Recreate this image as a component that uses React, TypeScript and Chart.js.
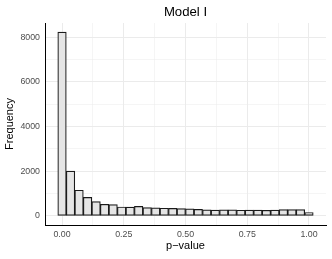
import React, { useEffect, useRef } from "react";
import { Chart, registerables } from "chart.js";

Chart.register(...registerables);

const chartTitle = "Model I";
const xTitle = "p\u2212value";
const yTitle = "Frequency";
const binWidth = 1 / 29;
const counts = [
  8220, 2005, 1145, 825, 640, 515, 500, 395, 390, 420,
  370, 355, 340, 330, 320, 315, 285, 270, 260, 270,
  265, 250, 260, 255, 245, 255, 275, 275, 275, 150,
];
const xMajorTicks = [0, 0.25, 0.5, 0.75, 1];
const xMinorTicks = [0.125, 0.375, 0.625, 0.875];
const yMajorTicks = [0, 2000, 4000, 6000, 8000];
const yMinorTicks = [1000, 3000, 5000, 7000];

const FONT = "'Liberation Sans', Arial, sans-serif";

export default function App() {
  const ref = useRef<HTMLCanvasElement | null>(null);
  useEffect(() => {
    if (!ref.current) return;
    const centers = counts.map((_, i) => i * binWidth);
    const xLo = -binWidth / 2;
    const xHi = 1 + binWidth / 2;
    const xPad = (xHi - xLo) * 0.05;
    const yMax = Math.max(...counts);
    const yPad = yMax * 0.05;
    const xTicks = [...xMajorTicks, ...xMinorTicks].sort((a, b) => a - b);
    const yTicks = [...yMajorTicks, ...yMinorTicks].sort((a, b) => a - b);
    const isMajor = (arr: number[], v: number) => arr.some((m) => Math.abs(m - v) < 1e-9);
    const gridWidth = (arr: number[]) => (c: any) =>
      c && c.tick && !isMajor(arr, c.tick.value) ? 0.5 : 1;

    const titlePlugin = {
      id: "panelTitle",
      afterDraw(chart: any) {
        const { ctx, chartArea } = chart;
        ctx.save();
        ctx.font = `13.2px ${FONT}`;
        ctx.fillStyle = "#000";
        ctx.textAlign = "center";
        ctx.textBaseline = "alphabetic";
        ctx.fillText(chartTitle, (chartArea.left + chartArea.right) / 2, 15.5);
        ctx.restore();
      },
    };

    const chart = new Chart(ref.current, {
      type: "bar",
      data: {
        datasets: [
          {
            data: centers.map((c, i) => ({ x: c, y: counts[i] })),
            backgroundColor: "#e5e5e5",
            borderColor: "#1a1a1a",
            borderWidth: 1.2,
            borderSkipped: false,
            barPercentage: 1,
            categoryPercentage: 1,
          },
        ],
      },
      plugins: [titlePlugin],
      options: {
        animation: false,
        responsive: false,
        layout: { padding: { left: 0, right: 6, top: 23, bottom: 0 } },
        plugins: { legend: { display: false }, tooltip: { enabled: false }, title: { display: false } },
        scales: {
          x: {
            type: "linear",
            offset: false,
            min: xLo - xPad,
            max: xHi + xPad,
            afterBuildTicks: (s: any) => {
              s.ticks = xTicks.map((v) => ({ value: v }));
            },
            afterFit: (s: any) => {
              s.height = 34;
            },
            grid: {
              offset: false,
              color: "#ebebeb",
              lineWidth: gridWidth(xMajorTicks),
              drawTicks: false,
            },
            border: { display: true, color: "#000", width: 1 },
            ticks: {
              padding: 4,
              color: "#4d4d4d",
              font: { family: FONT, size: 8.8 },
              maxRotation: 0,
              autoSkip: false,
              callback: (v: any) => (isMajor(xMajorTicks, Number(v)) ? Number(v).toFixed(2) : ""),
            },
            title: {
              display: true,
              text: xTitle,
              color: "#000",
              font: { family: FONT, size: 11 },
              padding: { top: 0, bottom: 6 },
            },
          },
          y: {
            type: "linear",
            min: -yPad,
            max: yMax + yPad,
            afterBuildTicks: (s: any) => {
              s.ticks = yTicks.map((v) => ({ value: v }));
            },
            afterFit: (s: any) => {
              s.width = 45;
            },
            grid: {
              color: "#ebebeb",
              lineWidth: gridWidth(yMajorTicks),
              drawTicks: false,
            },
            border: { display: true, color: "#000", width: 1 },
            ticks: {
              padding: 5,
              color: "#4d4d4d",
              font: { family: FONT, size: 8.8 },
              autoSkip: false,
              callback: (v: any) => (isMajor(yMajorTicks, Number(v)) ? String(v) : ""),
            },
            title: {
              display: true,
              text: yTitle,
              color: "#000",
              font: { family: FONT, size: 11 },
              padding: { top: 3.5, bottom: 0 },
            },
          },
        },
      },
    } as any);
    return () => chart.destroy();
  }, []);
  return (
    <div style={{ position: "absolute", left: 0, top: 0, width: 332, height: 259 }}>
      <canvas ref={ref} width={332} height={259} />
    </div>
  );
}
